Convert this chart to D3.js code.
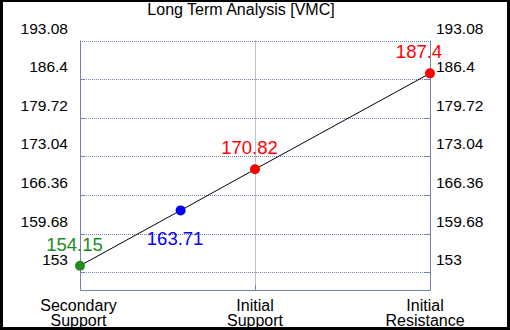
<!DOCTYPE html>
<html>
<head>
<meta charset="utf-8">
<script src="https://cdn.jsdelivr.net/npm/d3@7"></script>
<style>
  body { margin: 0; background: #000; }
  svg { display: block; font-family: "Liberation Sans", Arial, sans-serif; }
</style>
</head>
<body>
<svg id="chart" width="510" height="330"></svg>
<script>
const title = "Long Term Analysis [VMC]";
const categories = [["Secondary", "Support"], ["Initial", "Support"], ["Initial", "Resistance"]];
const categoryPos = [0, 1, 2];
const yTicks = [153, 159.68, 166.36, 173.04, 179.72, 186.4, 193.08];
const yDomain = [149.95, 193.08];
const pointValues = [154.15, 163.71, 170.82, 187.4];
const pointPos = [0, 0.575, 1, 2];
const pointColors = ["#228b22", "#0000ff", "#ff0000", "#ff0000"];

const svg = d3.select("#chart");
const gridColor = "#7384a6";

// white page inside the black frame
svg.append("rect")
  .attr("x", 3).attr("y", 2)
  .attr("width", 504).attr("height", 325)
  .attr("fill", "#fff");

const pLeft = 80, pRight = 430, pTop = 40.5, pBottom = 290;
const x = d3.scaleLinear().domain([0, 2]).range([pLeft, pRight]);
const y = d3.scaleLinear().domain(yDomain).range([pBottom, pTop]);

svg.append("text")
  .attr("x", 241).attr("y", 15)
  .attr("text-anchor", "middle")
  .style("font-size", "16px")
  .text(title);

// horizontal grid
const g = svg.append("g");
g.selectAll(".hgrid")
  .data(yTicks)
  .enter()
  .append("line")
  .attr("x1", pLeft).attr("x2", pRight)
  .attr("y1", d => Math.round(y(d)) + 0.5)
  .attr("y2", d => Math.round(y(d)) + 0.5)
  .style("stroke", gridColor)
  .style("stroke-width", 1)
  .style("stroke-dasharray", "1,1");

// small inward ticks on both sides
const innerTicks = yTicks.filter(d => d !== yTicks[yTicks.length - 1]);
g.selectAll(".ltick")
  .data(innerTicks)
  .enter()
  .append("line")
  .attr("x1", pLeft).attr("x2", pLeft + 5)
  .attr("y1", d => Math.round(y(d)) + 0.5)
  .attr("y2", d => Math.round(y(d)) + 0.5)
  .style("stroke", gridColor);
g.selectAll(".rtick")
  .data(innerTicks)
  .enter()
  .append("line")
  .attr("x1", pRight - 5).attr("x2", pRight)
  .attr("y1", d => Math.round(y(d)) + 0.5)
  .attr("y2", d => Math.round(y(d)) + 0.5)
  .style("stroke", gridColor);

// vertical grid at inner categories
g.selectAll(".vgrid")
  .data(categoryPos.slice(1, -1))
  .enter()
  .append("line")
  .attr("x1", d => Math.round(x(d)) + 0.5)
  .attr("x2", d => Math.round(x(d)) + 0.5)
  .attr("y1", pTop).attr("y2", pBottom)
  .style("stroke", gridColor)
  .style("stroke-dasharray", "1,1");
g.selectAll(".btick")
  .data(categoryPos.slice(1, -1))
  .enter()
  .append("line")
  .attr("x1", d => Math.round(x(d)) + 0.5)
  .attr("x2", d => Math.round(x(d)) + 0.5)
  .attr("y1", pBottom - 5).attr("y2", pBottom)
  .style("stroke", gridColor);

// solid frame: left, right, bottom
svg.append("path")
  .attr("d", `M${pLeft + 0.5},${pTop}V${pBottom + 0.5}H${pRight + 0.5}V${pTop}`)
  .style("fill", "none")
  .style("stroke", gridColor);

// y labels, both sides (sit above their grid line)
svg.append("g").selectAll("text")
  .data(yTicks)
  .enter()
  .append("text")
  .attr("x", 68)
  .attr("y", d => y(d) - 7)
  .attr("text-anchor", "end")
  .style("font-size", "15.5px")
  .text(d => d);
svg.append("g").selectAll("text")
  .data(yTicks)
  .enter()
  .append("text")
  .attr("x", 436)
  .attr("y", d => y(d) - 7)
  .style("font-size", "15.5px")
  .text(d => d);

// x labels
const xl = svg.append("g").selectAll("text")
  .data(categories)
  .enter()
  .append("text")
  .attr("text-anchor", "middle")
  .style("font-size", "16px")
  .attr("transform", (d, i) => `translate(${x(categoryPos[i]) - (i === categories.length - 1 ? 5 : 0) - (i === 0 ? 1.5 : 0)},311)`);
xl.selectAll("tspan")
  .data(d => d)
  .enter()
  .append("tspan")
  .attr("x", 0)
  .attr("y", (d, i) => i * 15)
  .text(d => d);

// line + points
const pts = pointValues.map((v, i) => ({ v, p: pointPos[i], c: pointColors[i], i }));
svg.append("path")
  .datum(pts)
  .attr("d", d3.line().x(d => x(d.p)).y(d => y(d.v)))
  .style("fill", "none")
  .style("stroke", "#000")
  .style("stroke-width", 1);

svg.append("g").selectAll("circle")
  .data(pts)
  .enter()
  .append("circle")
  .attr("cx", d => x(d.p))
  .attr("cy", d => y(d.v))
  .attr("r", 5)
  .style("fill", d => d.c);

svg.append("g").selectAll("text")
  .data(pts)
  .enter()
  .append("text")
  .attr("x", d => x(d.p) - (d.i === pts.length - 1 ? 11 : 5.5))
  .attr("y", d => y(d.v) + (d.i === 1 ? 35 : -15))
  .attr("text-anchor", "middle")
  .style("font-size", "18.5px")
  .style("fill", d => d.c)
  .text(d => d.v);
</script>
</body>
</html>
